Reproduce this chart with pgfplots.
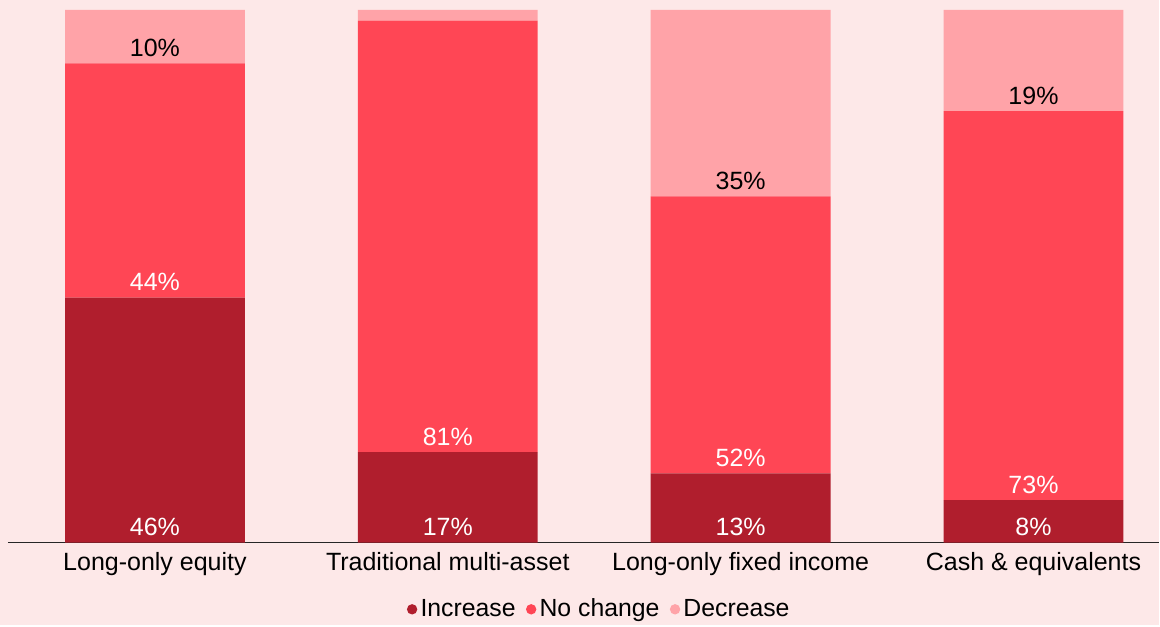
\documentclass[border=0pt]{standalone}
\usepackage{pgfplots}
\pgfplotsset{compat=1.18}
\usepackage{fontspec}
\setmainfont{Liberation Sans}
\definecolor{bg}{HTML}{FDE8E8}
\definecolor{cinc}{HTML}{B01E2D}
\definecolor{cnoc}{HTML}{FF4655}
\definecolor{cdec}{HTML}{FFA3A8}

\pgfplotsset{
  common/.style={
    scale only axis,
    width=576pt, height=266.5pt,
    at={(0,0)}, anchor=south west,
    xmin=-0.5017, xmax=3.43,
    ymin=0, ymax=100,
    clip=false,
  },
}

\begin{document}
\begin{tikzpicture}
\fill[bg] (-4pt,-41pt) rectangle (576pt,271.5pt);
\begin{axis}[
  common,
  ybar stacked,
  bar width=0.614,
  axis y line=none,
  axis x line*=bottom,
  x axis line style={line width=0.6pt, black!85, -},
  xtick={0,1,2,3},
  xticklabels={Long-only equity, Traditional multi-asset, Long-only fixed income, Cash \& equivalents},
  major tick length=0pt,
  xticklabel style={font=\fontsize{12.5}{15}\selectfont, anchor=base, yshift=-13.85pt, text=black},
  legend columns=-1,
  legend style={at={(0.514,-0.125)}, anchor=center, draw=none, fill=none,
    font=\fontsize{12.4}{14}\selectfont,
    /tikz/every odd column/.style={column sep=0pt},
    /tikz/every even column/.style={column sep=3.6pt},
    nodes={inner sep=1.6pt}},
  legend image code/.code={\fill (2.6pt,0pt) circle (2.6pt);},
]
\addplot[fill=cinc, draw=none] coordinates {(0,46) (1,17) (2,13) (3,8)};
\addlegendentry{Increase}
\addplot[fill=cnoc, draw=none] coordinates {(0,44) (1,81) (2,52) (3,73)};
\addlegendentry{No change}
\addplot[fill=cdec, draw=none] coordinates {(0,10) (1,2) (2,35) (3,19)};
\addlegendentry{Decrease}
\end{axis}
% labels overlay: each label sits at the lower edge of its segment
\begin{axis}[
  common,
  hide axis,
  point meta=explicit symbolic,
  nodes near coords,
  every node near coord/.append style={font=\fontsize{12.5}{15}\selectfont, anchor=base, yshift=3.5pt},
]
\addplot[draw=none, mark=none, every node near coord/.append style={text=white}]
  coordinates {(0,0) [46\%] (1,0) [17\%] (2,0) [13\%] (3,0) [8\%]};
\addplot[draw=none, mark=none, every node near coord/.append style={text=white}]
  coordinates {(0,46) [44\%] (1,17) [81\%] (2,13) [52\%] (3,8) [73\%]};
\addplot[draw=none, mark=none, every node near coord/.append style={text=black}]
  coordinates {(0,90) [10\%] (2,65) [35\%] (3,81) [19\%]};
\end{axis}
\end{tikzpicture}
\end{document}
